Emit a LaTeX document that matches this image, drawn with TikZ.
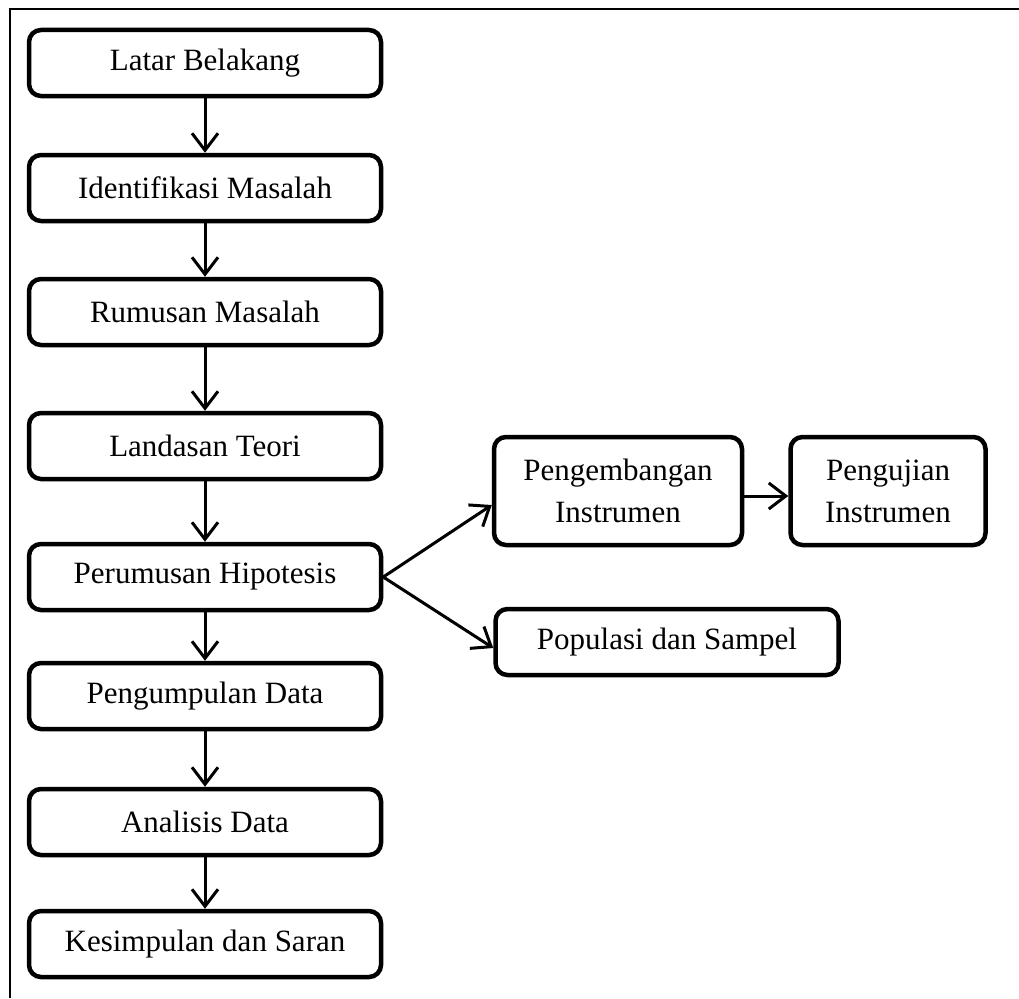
\documentclass[tikz,border=0pt]{standalone}
\usepackage{fontspec}
\setmainfont{Liberation Serif}
\usetikzlibrary{shapes,arrows.meta}

\begin{document}
\begin{tikzpicture}[x=1pt,y=-1pt]
\tikzstyle{stepbox}=[draw, line width=4.5pt, rounded corners=12pt, align=center, inner sep=0pt, font=\fontsize{31}{42}\selectfont]
\tikzstyle{mainbox}=[stepbox, minimum width=352pt, minimum height=66pt]
\tikzstyle{flow}=[line width=3pt, -{Straight Barb[length=17pt,width=26pt,line width=3pt]}]
\useasboundingbox (0,0) rectangle (1019,998);
\draw[line width=2pt] (10,998) -- (10,9) -- (1019,9);
% main column
\node[mainbox] (latar) at (205,63) {Latar Belakang};
\node[mainbox] (identifikasi) at (205,188) {Identifikasi Masalah};
\node[mainbox] (rumusan) at (205,312) {Rumusan Masalah};
\node[mainbox] (landasan) at (205,446) {Landasan Teori};
\node[mainbox] (hipotesis) at (205,577) {Perumusan Hipotesis};
\node[mainbox] (pengumpulan) at (205,696) {Pengumpulan Data};
\node[mainbox] (analisis) at (205,822) {Analisis Data};
\node[mainbox] (kesimpulan) at (205,944) {Kesimpulan dan Saran};
% branch
\node[stepbox, minimum width=248pt, minimum height=108pt] (pengembangan) at (618,491) {Pengembangan\\Instrumen};
\node[stepbox, minimum width=195pt, minimum height=108pt] (pengujian) at (888,491) {Pengujian\\Instrumen};
\node[stepbox, minimum width=343pt, minimum height=66pt] (populasi) at (667,642) {Populasi dan Sampel};
\draw[flow] (latar) -- (identifikasi);
\draw[flow] (identifikasi) -- (rumusan);
\draw[flow] (rumusan) -- (landasan);
\draw[flow] (landasan) -- (hipotesis);
\draw[flow] (hipotesis) -- (pengumpulan);
\draw[flow] (pengumpulan) -- (analisis);
\draw[flow] (analisis) -- (kesimpulan);
\draw[flow] (hipotesis.east) -- ([yshift=-14pt]pengembangan.west);
\draw[flow] (hipotesis.east) -- ([yshift=-6pt]populasi.west);
\draw[flow] ([yshift=-5pt]pengembangan.east) -- ([yshift=-5pt]pengujian.west);
\end{tikzpicture}
\end{document}
